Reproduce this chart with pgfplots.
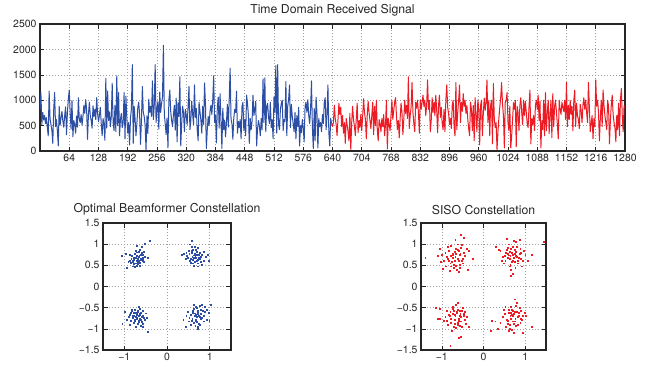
\documentclass[border=0pt]{standalone}
\usepackage{fontspec}
\setmainfont{TeX Gyre Heros}
\usepackage{pgfplots}
\usepackage{pgfplotstable}
\pgfplotsset{compat=1.18}
\definecolor{sigblue}{RGB}{45,78,165}
\definecolor{sigred}{RGB}{237,28,36}

% received signal magnitude, one value every 2 samples
\pgfplotstableread{
v
820
1150
520
760
610
700
540
660
470
300
1180
640
520
410
150
820
1150
480
620
400
100
880
510
650
780
590
470
700
870
320
760
1020
1200
760
430
990
280
600
520
350
690
470
1050
620
560
720
510
680
900
740
1010
820
230
720
960
700
600
450
890
680
820
620
1050
740
580
700
860
540
300
640
520
210
1430
450
1180
600
770
480
680
1330
560
400
900
380
1480
500
1150
300
620
740
460
560
1150
240
1080
640
350
560
120
650
830
1700
150
880
640
300
540
860
960
710
130
620
1270
760
680
510
20
690
340
1020
760
880
680
1380
620
900
1700
560
820
970
430
1160
760
940
1050
2080
720
540
320
650
60
1000
1200
780
600
480
720
900
410
1040
180
950
680
1460
100
540
880
760
380
820
700
520
880
1270
420
600
980
720
520
1300
660
840
420
200
960
780
610
350
880
520
1340
940
50
420
680
500
780
900
720
1010
1480
560
700
160
860
1060
450
1130
600
50
840
420
610
280
560
920
470
1010
1630
620
540
230
640
820
760
1180
350
580
460
620
240
880
960
400
620
300
1100
940
700
150
640
420
580
1100
700
820
980
100
440
600
500
300
640
420
1420
560
1440
380
880
940
660
540
960
460
620
240
1060
760
1680
350
1700
520
420
820
940
1000
400
620
580
1370
300
880
1020
1300
460
920
680
540
380
760
240
700
480
860
100
500
360
620
460
180
880
960
760
1010
700
540
820
1380
460
50
840
200
1060
760
60
640
480
560
380
720
540
960
1050
420
700
1300
360
100
640
540
}\bluesig

\pgfplotstableread{
v
540
480
560
900
640
520
300
620
940
720
860
480
700
350
560
150
640
520
380
200
740
30
560
880
620
480
300
640
940
360
600
460
720
400
680
1030
760
620
240
700
980
760
600
440
700
960
320
880
500
1000
420
200
620
540
380
640
480
720
300
520
1000
40
640
520
400
700
1000
620
800
960
1050
680
420
600
260
640
940
760
320
620
1000
740
900
640
1460
440
700
860
1350
760
540
380
960
840
1000
760
350
1000
820
960
1100
880
1000
700
900
1400
820
1000
380
600
1050
760
960
700
1100
800
360
900
1100
660
860
540
420
820
380
1000
1300
860
740
520
640
440
900
1000
480
300
1350
420
760
1000
1300
560
960
780
1130
880
1000
740
900
620
440
300
960
820
400
900
200
1050
700
380
1000
840
120
900
1000
300
740
1040
800
950
1400
560
1000
300
900
1000
140
1330
640
460
560
20
380
640
860
1050
1350
920
700
60
960
1000
1150
560
400
880
60
300
620
950
820
1000
80
880
760
400
900
1050
760
520
1000
700
980
760
540
460
880
1200
140
640
520
700
400
900
1000
820
1100
600
980
60
600
420
1000
300
1150
400
760
1000
340
700
1000
260
1130
480
880
1000
760
520
240
1000
820
720
960
860
780
1000
620
1350
480
900
620
1000
720
880
400
1000
1200
480
940
700
620
440
920
800
560
900
1050
820
1000
760
560
1350
860
380
540
700
240
640
480
1400
880
1000
760
200
640
1000
480
1200
900
700
560
420
1000
880
140
600
900
1100
720
560
460
180
700
420
940
300
1000
1230
700
380
900
}\redsig

\pgfplotstableread{
x y
-0.72 0.62
-0.61 0.75
-0.80 0.58
-0.66 0.70
-0.55 0.82
-0.74 0.55
-0.69 0.66
-0.83 0.72
-0.58 0.60
-0.64 0.88
-0.77 0.64
-0.70 0.50
-0.52 0.71
-0.88 0.62
-0.63 0.57
-0.75 0.78
-0.67 0.61
-0.59 0.93
-0.81 0.48
-0.71 0.73
-0.62 0.66
-0.85 0.56
-0.56 0.64
-0.73 0.85
-0.68 0.53
-0.79 0.67
-0.60 0.79
-0.91 0.59
-0.65 0.74
-0.76 0.46
-0.54 0.58
-0.70 0.96
-0.84 0.65
-0.66 0.62
-0.58 0.69
-0.78 0.54
-0.72 0.81
-0.63 0.50
-0.87 0.76
-0.69 0.58
-0.40 1.08
-1.07 0.73
-0.52 1.02
-0.94 0.44
-0.61 0.63
-0.74 0.69
-0.57 0.76
-0.80 0.61
-0.67 0.83
-0.46 0.67
-0.96 0.78
0.58 0.80
0.66 0.70
0.52 0.77
0.71 0.63
0.60 0.88
0.75 0.75
0.47 0.72
0.64 0.58
0.69 0.82
0.55 0.66
0.80 0.70
0.62 0.74
0.57 0.93
0.73 0.55
0.50 0.84
0.67 0.67
0.85 0.62
0.59 0.71
0.63 0.50
0.76 0.80
0.45 0.79
0.70 0.60
0.54 1.00
0.82 0.76
0.61 0.64
0.68 0.86
0.39 0.78
0.74 0.68
0.56 0.57
0.90 0.70
0.65 0.78
0.60 0.55
0.78 0.58
0.49 0.69
0.72 0.91
0.58 1.08
0.95 0.75
0.35 0.75
0.81 0.52
0.66 0.74
0.53 0.61
0.87 0.82
0.62 0.68
0.71 0.48
0.57 0.84
0.98 0.62
0.44 0.66
0.69 0.75
0.76 0.65
0.64 0.95
-0.70 -0.66
-0.63 -0.75
-0.78 -0.62
-0.66 -0.80
-0.57 -0.68
-0.74 -0.72
-0.82 -0.58
-0.61 -0.61
-0.69 -0.88
-0.76 -0.78
-0.55 -0.74
-0.88 -0.67
-0.65 -0.52
-0.72 -0.64
-0.59 -0.83
-0.80 -0.74
-0.67 -0.70
-0.50 -0.63
-0.85 -0.80
-0.62 -0.92
-0.75 -0.55
-0.71 -0.77
-0.58 -0.58
-0.90 -0.71
-0.64 -0.66
-0.79 -0.85
-0.68 -0.60
-0.53 -0.79
-0.73 -0.95
-0.86 -0.62
-0.60 -0.71
-0.77 -0.68
-0.66 -0.47
-0.94 -0.78
-0.56 -0.87
-0.70 -0.74
-0.83 -0.55
-0.63 -0.65
-0.48 -0.73
-0.75 -0.82
-1.05 -0.88
-0.45 -1.07
-1.00 -0.60
-0.69 -0.57
-0.61 -0.78
-0.81 -0.69
-0.74 -0.61
-0.57 -0.96
-0.88 -0.91
-0.66 -0.84
0.72 -0.60
0.65 -0.70
0.78 -0.55
0.68 -0.78
0.60 -0.62
0.75 -0.68
0.82 -0.74
0.70 -0.50
0.63 -0.85
0.77 -0.45
0.56 -0.66
0.88 -0.60
0.69 -0.72
0.74 -0.88
0.61 -0.57
0.80 -0.64
0.66 -0.92
0.52 -0.74
0.85 -0.82
0.71 -0.65
0.58 -0.80
0.92 -0.55
0.67 -0.48
0.79 -0.77
0.64 -0.63
0.73 -0.95
0.48 -0.60
0.86 -0.68
0.70 -0.83
0.62 -0.53
0.76 -0.72
0.94 -0.78
0.55 -0.90
0.81 -0.42
0.68 -0.66
0.45 -0.70
1.03 -0.42
0.38 -0.78
0.44 -0.96
0.97 -0.62
0.59 -0.75
0.83 -0.58
0.73 -0.56
0.66 -0.81
0.89 -0.47
0.77 -0.90
0.62 -0.44
0.71 -1.00
0.50 -0.82
0.99 -0.80
}\bluecon

\pgfplotstableread{
x y
-0.70 0.62
-0.58 0.75
-0.80 0.55
-0.62 0.88
-0.50 0.66
-0.75 0.78
-0.88 0.70
-0.66 0.50
-0.54 0.92
-0.72 0.45
-0.95 0.62
-0.60 0.60
-0.48 0.80
-0.83 0.85
-0.68 0.70
-0.57 0.52
-0.78 0.96
-1.00 0.75
-0.64 0.40
-0.45 0.72
-0.90 0.48
-0.70 0.82
-0.53 0.62
-0.85 0.65
-0.62 1.00
-0.76 0.58
-0.41 0.90
-1.05 0.90
-0.66 0.78
-0.58 0.45
-0.92 0.80
-0.73 0.68
-0.50 0.55
-0.82 0.38
-0.60 0.85
-0.68 1.10
-0.55 1.23
-0.47 1.15
-1.40 0.68
-0.35 0.85
-0.26 0.65
-0.38 0.40
-1.10 0.72
-0.97 0.42
-0.78 0.48
-0.63 0.65
-0.87 0.95
-0.71 0.52
-0.56 0.78
-0.79 0.72
-1.02 0.58
-0.66 0.90
-0.60 0.35
-0.84 0.60
-0.52 0.98
-0.75 0.75
0.70 0.75
0.62 0.65
0.78 0.82
0.58 0.78
0.85 0.68
0.66 0.90
0.74 0.58
0.50 0.72
0.90 0.80
0.64 0.52
0.80 0.95
0.55 0.86
0.72 0.68
0.95 0.62
0.60 1.00
0.83 0.55
0.45 0.70
0.68 0.80
0.76 0.45
0.52 0.60
1.00 0.75
0.64 0.72
0.88 0.90
0.70 0.62
0.40 0.85
0.58 0.92
0.92 0.48
0.74 0.78
0.66 0.40
0.80 0.70
0.48 0.55
0.72 1.08
0.65 0.25
0.70 0.30
0.30 0.95
0.37 0.87
1.15 0.75
1.45 1.05
0.55 1.12
0.78 1.05
0.87 1.10
0.96 0.85
0.62 0.83
0.82 0.62
0.58 0.68
0.75 0.88
0.68 0.58
0.90 0.65
0.53 0.80
0.86 0.78
0.62 0.48
0.77 0.72
0.44 0.62
1.05 0.60
0.69 0.95
0.60 0.74
-0.65 -0.62
-0.55 -0.72
-0.72 -0.58
-0.60 -0.80
-0.48 -0.65
-0.78 -0.75
-0.62 -0.55
-0.70 -0.88
-0.52 -0.58
-0.84 -0.66
-0.58 -0.92
-0.68 -0.70
-0.45 -0.78
-0.75 -0.48
-0.63 -0.85
-0.88 -0.80
-0.56 -0.64
-0.72 -0.95
-0.50 -0.50
-0.80 -0.60
-0.60 -0.75
-0.67 -0.42
-0.43 -0.88
-0.76 -1.05
-0.92 -0.72
-0.54 -0.82
-0.70 -0.66
-0.62 -0.38
-0.85 -0.90
-0.48 -0.70
-0.78 -0.85
-0.58 -0.58
-0.66 -0.98
-1.15 -0.50
-1.05 -0.52
-1.10 -0.75
-1.05 -0.75
-0.95 -0.80
-0.80 -1.40
-0.60 -1.20
-0.55 -1.18
-0.35 -0.95
-0.73 -0.52
-0.52 -0.95
-0.82 -0.70
-0.64 -0.60
-0.57 -0.68
-0.70 -0.78
-0.46 -0.60
-0.88 -0.58
-0.62 -0.90
-0.74 -0.65
-0.40 -0.72
0.72 -0.65
0.65 -0.75
0.80 -0.60
0.60 -0.62
0.75 -0.82
0.85 -0.70
0.68 -0.55
0.55 -0.78
0.90 -0.58
0.62 -0.90
0.78 -0.45
0.70 -0.70
0.50 -0.65
0.88 -0.85
0.66 -0.48
0.82 -0.72
0.58 -0.88
0.74 -0.60
0.95 -0.68
0.63 -1.00
0.77 -0.92
0.45 -0.72
0.86 -0.50
0.70 -0.82
0.60 -0.55
0.92 -0.78
0.54 -0.95
0.80 -0.38
0.67 -0.66
0.76 -0.75
0.40 -0.85
0.98 -0.62
0.20 -0.80
0.28 -0.82
0.18 -1.05
0.35 -1.00
1.15 -0.95
0.95 -1.10
0.72 -1.10
0.67 -1.02
0.60 -1.05
0.75 -0.30
0.52 -0.48
0.84 -0.62
0.64 -0.70
0.70 -0.58
0.58 -0.80
0.90 -0.75
0.73 -0.88
0.48 -0.55
0.82 -0.90
0.66 -0.62
1.02 -0.70
}\redcon

\pgfplotsset{
  mat/.style={
    scale only axis,
    axis line style={line width=1.2bp, black!85},
    tick style={black!85, line width=0.6bp},
    major tick length=4.5bp,
    tick align=inside,
    grid=major,
    major grid style={line width=0.6bp, gray!75, dash pattern=on 0.7bp off 2.3bp},
    ticklabel style={font=\fontsize{10.5}{12}\selectfont, text=black!85},
    /pgf/number format/assume math mode=true,
    /pgf/number format/1000 sep={},
    scaled ticks=false,
    title style={font=\fontsize{12.3}{14}\selectfont, text=black!85, yshift=-1.5bp},
  },
}

\begin{document}
\begin{tikzpicture}
\begin{axis}[mat,
  at={(40bp,-151bp)}, anchor=south west,
  width=585bp, height=127bp,
  xmin=0, xmax=1280, ymin=0, ymax=2500,
  xtick={64,128,...,1280},
  ytick={0,500,...,2500},
  title={Time Domain Received Signal},
]
\addplot[sigblue, line width=1bp, line join=round] table[x expr=2*\coordindex, y=v] {\bluesig};
\addplot[sigred, line width=1bp, line join=round] table[x expr=638+2*\coordindex, y=v] {\redsig};
\end{axis}

\begin{axis}[mat,
  at={(103bp,-350bp)}, anchor=south west,
  width=128bp, height=127bp,
  xmin=-1.5, xmax=1.5, ymin=-1.5, ymax=1.5,
  xtick={-1,0,1}, xticklabels={−1,0,1},
  ytick={-1.5,-1,-0.5,0,0.5,1,1.5},
  yticklabels={−1.5,−1,−0.5,0,0.5,1,1.5},
  title={Optimal Beamformer Constellation},
]
\addplot[only marks, mark=square*, mark size=0.45bp, sigblue] table[x=x, y=y] {\bluecon};
\end{axis}

\begin{axis}[mat,
  at={(421bp,-350bp)}, anchor=south west,
  width=125bp, height=127bp,
  xmin=-1.5, xmax=1.5, ymin=-1.5, ymax=1.5,
  xtick={-1,0,1}, xticklabels={−1,0,1},
  ytick={-1.5,-1,-0.5,0,0.5,1,1.5},
  yticklabels={−1.5,−1,−0.5,0,0.5,1,1.5},
  title={SISO Constellation},
]
\addplot[only marks, mark=square*, mark size=0.45bp, sigred] table[x=x, y=y] {\redcon};
\end{axis}
\pgfresetboundingbox
\path (0,0) rectangle (646bp,-367bp);
\end{tikzpicture}
\end{document}
